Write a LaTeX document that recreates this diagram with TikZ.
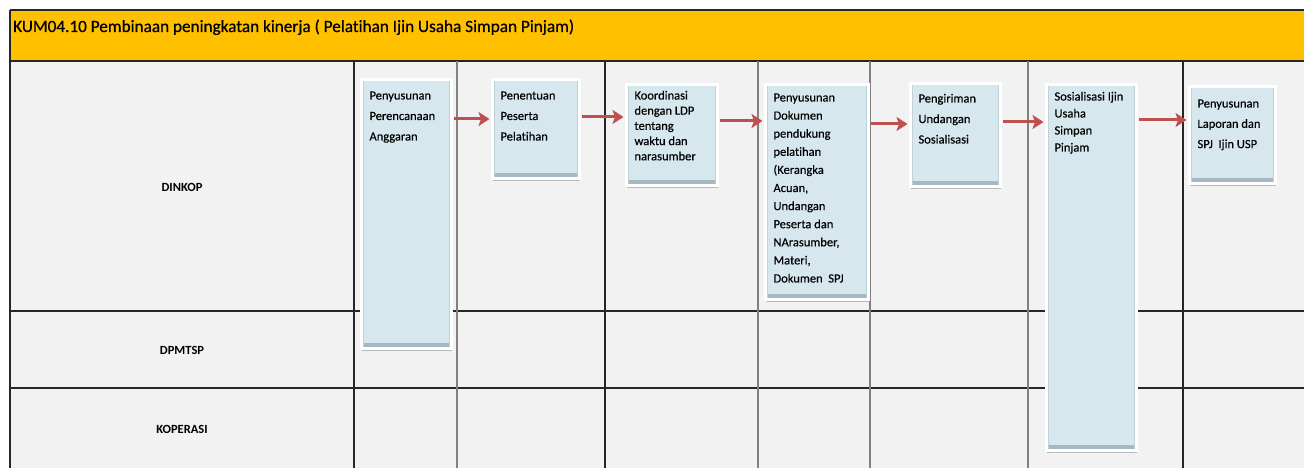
\documentclass[tikz,border=0pt]{standalone}
\usepackage{fontspec}
\setmainfont{Carlito}[Ligatures=NoCommon]
\newfontfamily\heavyfont{Carlito}[FakeBold=0.6,Ligatures=NoCommon]
\newfontfamily\boxfont{Carlito}[FakeBold=0.35,Ligatures=NoCommon]
\usetikzlibrary{arrows.meta,shadows}
\definecolor{titlebg}{HTML}{FFC000}
\definecolor{lanebg}{HTML}{F2F2F2}
\definecolor{boxfill}{HTML}{D6E7ED}
\definecolor{bevelc}{HTML}{A4B9C1}
\definecolor{bevelside}{HTML}{BFD2D9}
\definecolor{flowred}{HTML}{C0504D}
\definecolor{gridk}{HTML}{262626}
\definecolor{gridg}{HTML}{808080}
\tikzset{
  pbox/.style={anchor=north west, draw=white, line width=3pt, fill=boxfill,
    inner xsep=8.5pt, inner ysep=0pt, font=\boxfont\fontsize{12.5}{15}\selectfont,
    drop shadow={shadow xshift=1.2pt, shadow yshift=-2.8pt, opacity=.4, fill=black!60},
    path picture={
      \fill[bevelc] (path picture bounding box.south west) rectangle ([yshift=4.8pt]path picture bounding box.south east);
      \fill[bevelside] (path picture bounding box.south west) rectangle ([xshift=2.5pt]path picture bounding box.north west);
      \fill[bevelside] ([xshift=-2.5pt]path picture bounding box.south east) rectangle (path picture bounding box.north east);
    }},
  flow/.style={draw=flowred, line width=3pt, -{Stealth[length=11pt,width=14pt,inset=2.5pt]},
    shorten <=1pt, shorten >=1pt},
  lane/.style={font=\bfseries\fontsize{12.5}{15}\selectfont, inner sep=0pt},
  gridline/.style={draw=gridk, line width=1.2pt},
  gridlight/.style={draw=gridg, line width=1.2pt},
}
\newcommand\procbox[8]{%
  \node[pbox, minimum width={(#4-#2-3)*1pt}, minimum height={(#5-#3-3)*1pt}] (#1) at (#2+1.5,#3+1.5)
  {\parbox[t][\dimexpr #5pt-#3pt-3pt\relax][t]{\dimexpr #4pt-#2pt-20pt\relax}{\raggedright\baselineskip=#7pt\vspace*{#6pt}\rule{0pt}{10pt}#8}};}
\begin{document}
\begin{tikzpicture}[x=1pt,y=-1pt]
\useasboundingbox (0,0) rectangle (1304,468);
\fill[white] (0,0) rectangle (1304,468);
% title band and lanes
\fill[titlebg] (10,10) rectangle (1304,61);
\fill[lanebg] (10,61) rectangle (1304,468);
\draw[gridline] (10,10) -- (1304,10);
\draw[gridline] (10,10) -- (10,468);
\draw[gridline] (10,61) -- (1304,61);
\draw[gridline] (10,311) -- (1304,311);
\draw[gridline] (10,388) -- (1304,388);
\draw[gridline] (354,61) -- (354,468);
\draw[gridlight] (457,61) -- (457,468);
\draw[gridline] (605,61) -- (605,468);
\draw[gridlight] (758,61) -- (758,468);
\draw[gridlight] (870,61) -- (870,468);
\draw[gridlight] (1028,61) -- (1028,468);
\draw[gridline] (1183,61) -- (1183,468);
\node[anchor=base west, font=\heavyfont\fontsize{17.2}{20}\selectfont, inner sep=0pt] (title) at (13,32)
  {KUM04.10 Pembinaan peningkatan kinerja ( Pelatihan Ijin Usaha Simpan Pinjam)};
\node[lane] (dinkop) at (182,187) {DINKOP};
\node[lane] (dpmtsp) at (182,350) {DPMTSP};
\node[lane] (koperasi) at (182,429) {KOPERASI};
% process boxes
\procbox{b1}{358}{77}{451}{348}{9.5}{20.5}{Penyusunan\\Perencanaan\\Anggaran}
\procbox{b2}{489}{77}{579}{178}{9.5}{20.5}{Penentuan\\Peserta\\Pelatihan}
\procbox{b3}{623}{82}{717}{185}{4.5}{15.2}{Koordinasi\\dengan LDP\\tentang\\waktu dan\\narasumber}
\procbox{b4}{762}{82}{868}{299}{6.5}{18.1}{Penyusunan\\Dokumen\\pendukung\\pelatihan\\(Kerangka\\Acuan,\\Undangan\\Peserta dan\\NArasumber,\\Materi,\\Dokumen\ \ SPJ}
\procbox{b5}{907}{81}{1000}{186}{8.5}{20.5}{Pengiriman\\Undangan\\Sosialisasi}
\procbox{b6}{1043}{82}{1136}{450}{5.5}{17}{Sosialisasi Ijin\\Usaha\\Simpan\\Pinjam}
\procbox{b7}{1186}{84}{1275}{183}{10.5}{20.3}{Penyusunan\\Laporan dan\\SPJ\ \ Ijin USP}
% arrows
\coordinate (y1) at (0,119);
\coordinate (y2) at (0,117);
\coordinate (y3) at (0,121);
\coordinate (y4) at (0,124);
\coordinate (y5) at (0,122);
\coordinate (y6) at (0,120);
\draw[flow] (b1.east |- y1) -- (b2.west |- y1);
\draw[flow] (b2.east |- y2) -- (b3.west |- y2);
\draw[flow] (b3.east |- y3) -- (b4.west |- y3);
\draw[flow] (b4.east |- y4) -- (b5.west |- y4);
\draw[flow] (b5.east |- y5) -- (b6.west |- y5);
\draw[flow] (b6.east |- y6) -- (b7.west |- y6);
\end{tikzpicture}
\end{document}
